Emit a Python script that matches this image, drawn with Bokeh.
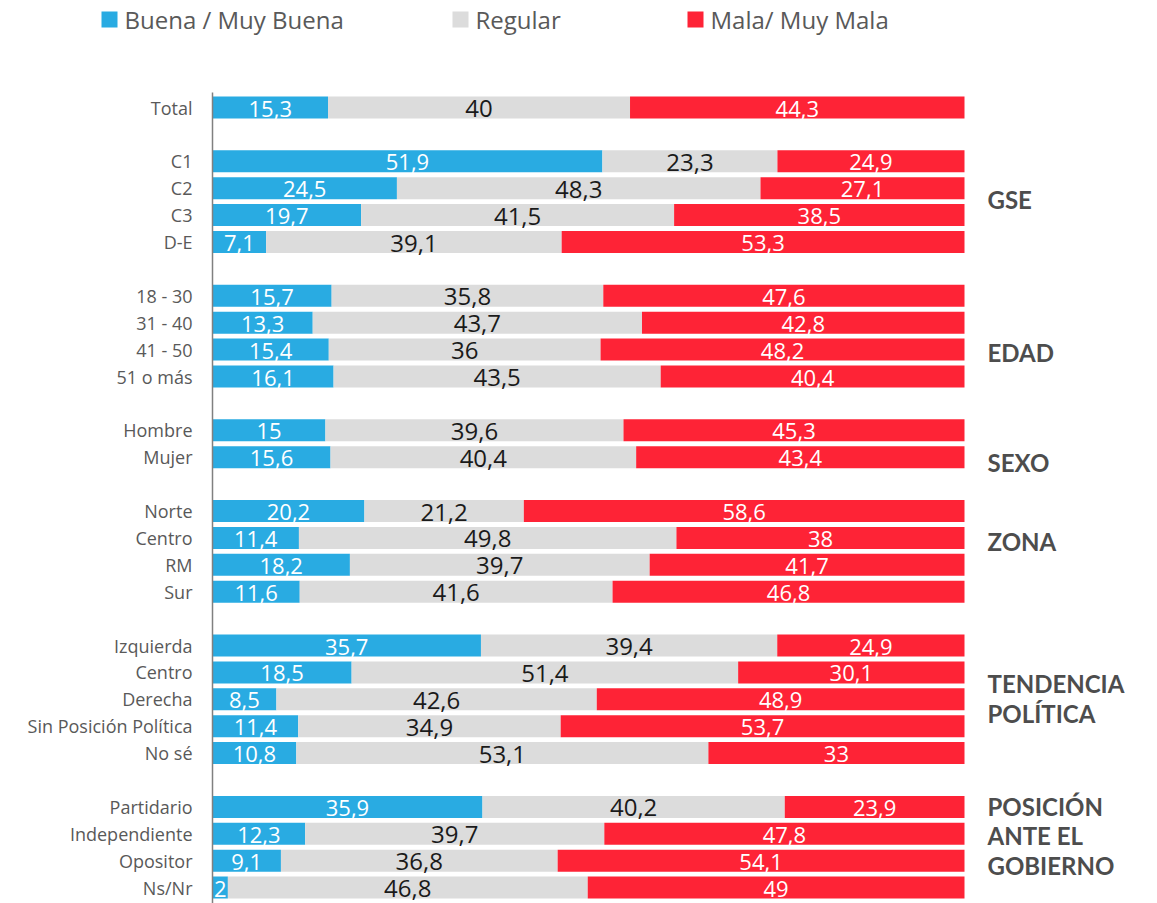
from bokeh.plotting import figure
from bokeh.models import ColumnDataSource, Range1d
from bokeh.core.properties import value
from bokeh.embed import file_html
from bokeh.resources import INLINE

# ---------------- data ----------------
categories = ["Total",
              "C1", "C2", "C3", "D-E",
              "18 - 30", "31 - 40", "41 - 50", "51 o más",
              "Hombre", "Mujer",
              "Norte", "Centro", "RM", "Sur",
              "Izquierda", "Centro", "Derecha", "Sin Posición Política", "No sé",
              "Partidario", "Independiente", "Opositor", "Ns/Nr"]
group_sizes = [1, 4, 4, 2, 4, 5, 4]
group_names = ["", "GSE", "EDAD", "SEXO", "ZONA", "TENDENCIA\nPOLÍTICA",
               "POSICIÓN\nANTE EL\nGOBIERNO"]
buena = [15.3, 51.9, 24.5, 19.7, 7.1, 15.7, 13.3, 15.4, 16.1, 15, 15.6,
         20.2, 11.4, 18.2, 11.6, 35.7, 18.5, 8.5, 11.4, 10.8, 35.9, 12.3, 9.1, 2]
regular = [40, 23.3, 48.3, 41.5, 39.1, 35.8, 43.7, 36, 43.5, 39.6, 40.4,
           21.2, 49.8, 39.7, 41.6, 39.4, 51.4, 42.6, 34.9, 53.1, 40.2, 39.7, 36.8, 46.8]
mala = [44.3, 24.9, 27.1, 38.5, 53.3, 47.6, 42.8, 48.2, 40.4, 45.3, 43.4,
        58.6, 38, 41.7, 46.8, 24.9, 30.1, 48.9, 53.7, 33, 23.9, 47.8, 54.1, 49]
series_names = ["Buena / Muy Buena", "Regular", "Mala/ Muy Mala"]

# ---------------- style ----------------
COLORS = ["#29ABE2", "#DCDCDC", "#FE2336"]
LABEL_COLORS = ["#FFFFFF", "#1A1A1A", "#FFFFFF"]
LABEL_SIZES = ["22px", "24px", "22px"]
TICK_COLOR = "#595959"
GROUP_COLOR = "#4D4D4D"

W, H = 1157, 903
FRAME_LEFT = 212          # pixel of x=0
PX_PER_UNIT = 7.52        # pixels per percentage point
ROW0_PX = 107             # pixel of first row centre
PITCH = 26.9              # pixels per row slot

# row slots (one empty slot between groups)
slots = []
s = 0
group_first = []
for gi, n in enumerate(group_sizes):
    group_first.append(s)
    for k in range(n):
        slots.append(s)
        s += 1
    s += 1

def fmt(v):
    return str(int(v)) if float(v).is_integer() else str(v).replace(".", ",")

# normalise to 100%
lefts, rights, mids = [[], [], []], [[], [], []], [[], [], []]
for i in range(len(categories)):
    vals = [buena[i], regular[i], mala[i]]
    tot = sum(vals)
    acc = 0.0
    for j, v in enumerate(vals):
        w = v / tot * 100
        lefts[j].append(acc)
        rights[j].append(acc + w)
        mids[j].append(acc + w / 2)
        acc += w

x_start = -FRAME_LEFT / PX_PER_UNIT
x_end = (W - FRAME_LEFT) / PX_PER_UNIT
y_top = -ROW0_PX / PITCH
y_bot = (H - ROW0_PX) / PITCH

p = figure(width=W, height=H, output_backend="svg", toolbar_location=None,
           x_range=Range1d(x_start, x_end), y_range=Range1d(y_bot, y_top),
           min_border=0, title=None)
p.axis.visible = False
p.grid.visible = False
p.outline_line_color = None
p.background_fill_color = "white"
p.border_fill_color = "white"

vals_all = [buena, regular, mala]
for j in range(3):
    src = ColumnDataSource(dict(y=slots, left=lefts[j], right=rights[j],
                                mid=mids[j], lab=[fmt(v) for v in vals_all[j]]))
    p.hbar(y="y", left="left", right="right", height=22 / PITCH, source=src,
           fill_color=COLORS[j], line_color=None)
    p.text(x="mid", y="y", text="lab", source=src, text_align="center",
           text_baseline="middle", y_offset=1, text_color=LABEL_COLORS[j],
           text_font=value("Open Sans"), text_font_size=LABEL_SIZES[j])

# axis line
p.segment(x0=[0], y0=[(92 - ROW0_PX) / PITCH], x1=[0], y1=[y_bot],
          line_color="#808080", line_width=1.5)

# category labels
p.text(x=[0] * len(categories), y=slots, text=categories, x_offset=-20,
       text_align="right", text_baseline="middle", text_color=TICK_COLOR,
       text_font=value("Open Sans"), text_font_size="18px")

# group labels (hand-placed like the original)
group_label_slot_offsets = [0, 1.41, 2.11, 1.19, 1.15, 1.96, 1.07]
gy, gt = [], []
for gi, name in enumerate(group_names):
    if not name:
        continue
    gy.append(group_first[gi] + group_label_slot_offsets[gi])
    gt.append(name)
p.text(x=[100] * len(gt), y=gy, text=gt, x_offset=23, text_align="left",
       text_baseline="middle", text_color=GROUP_COLOR,
       text_font=value("Lato"), text_font_style="bold", text_font_size="24px",
       text_line_height=1.02)

# legend (manual, at top)
legend_px_x = [109, 460, 695]
legend_px_y = 19
lx = [(px - FRAME_LEFT) / PX_PER_UNIT for px in legend_px_x]
ly = (legend_px_y - ROW0_PX) / PITCH
p.scatter(x=lx, y=[ly] * 3, marker="square", size=16, fill_color=COLORS,
          line_color=None)
p.text(x=lx, y=[ly] * 3, text=series_names, x_offset=15, text_align="left",
       text_baseline="middle", text_color=TICK_COLOR,
       text_font=value("Open Sans"), text_font_size="24px")

open("out.html", "w").write(file_html(p, INLINE))
